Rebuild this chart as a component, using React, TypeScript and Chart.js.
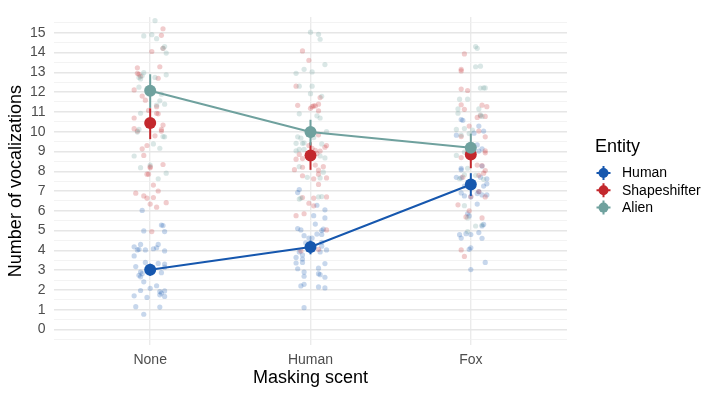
import React, { useEffect, useRef } from 'react';
import { Chart, registerables } from 'chart.js';

Chart.register(...registerables);

const categories = ['None', 'Human', 'Fox'];
const entities = ['Human', 'Shapeshifter', 'Alien'];
const colors = ['#1657AE', '#C3282D', '#6FA19E'];
const fills = ['rgba(22,87,174,0.24)', 'rgba(195,40,45,0.24)', 'rgba(111,161,158,0.26)'];

const meanHuman = [3.02, 4.17, 7.33];
const meanShapeshifter = [10.44, 8.79, 8.85];
const meanAlien = [12.07, 9.98, 9.18];
const lowHuman = [2.72, 3.8, 6.75];
const highHuman = [3.32, 4.5, 7.9];
const lowShapeshifter = [9.62, 8.07, 8.15];
const highShapeshifter = [11.18, 9.46, 9.14];
const lowAlien = [11.2, 9.3, 8.96];
const highAlien = [12.9, 10.6, 9.9];

const yTickLabels = ['0', '1', '2', '3', '4', '5', '6', '7', '8', '9', '10', '11', '12', '13', '14', '15'];

// jittered raw observations: [x offset from category, value]
const humanNone: [number, number][] = [
  [-0.05, 6.02], [0.07, 5.28], [0.08, 5.25], [-0.04, 4.98], [0.09, 4.95], [-0.1, 4.18], [-0.06, 4.3],
  [-0.08, 4.02], [-0.1, 3.72], [-0.07, 4.05], [-0.03, 4.02], [0.05, 4.3], [0.04, 4.13], [0.02, 4.08],
  [0.09, 3.97], [-0.09, 3.18], [-0.03, 3.39], [-0.06, 2.9], [-0.06, 2.66], [-0.07, 2.74], [-0.05, 2.82],
  [0.05, 3.34], [0.09, 3.31], [0.07, 2.87], [0.09, 3.15], [-0.04, 2.41], [-0.06, 1.97], [0.0, 2.08],
  [0.04, 2.21], [0.06, 1.92], [0.07, 1.84], [0.09, 1.95], [0.09, 1.67], [0.06, 1.75], [-0.1, 1.7],
  [-0.02, 1.62], [-0.09, 1.15], [0.06, 1.13], [-0.04, 0.77],
];
const humanHuman: [number, number][] = [
  [-0.07, 7.07], [-0.08, 6.92], [0.04, 6.28], [0.09, 6.05], [0.02, 5.75], [0.09, 5.64], [-0.08, 5.1],
  [-0.06, 5.03], [0.03, 5.33], [0.08, 5.07], [0.07, 5.0], [-0.04, 4.74], [0.04, 4.82], [0.07, 4.8],
  [-0.01, 4.62], [0.01, 4.62], [-0.03, 4.38], [0.07, 4.41], [-0.07, 3.92], [-0.05, 3.77], [-0.01, 4.05],
  [0.07, 4.21], [0.1, 4.02], [0.06, 3.92], [-0.09, 3.64], [-0.05, 3.56], [-0.09, 3.36], [-0.05, 3.39],
  [0.09, 3.33], [-0.08, 3.07], [-0.04, 2.9], [-0.04, 2.69], [0.05, 2.82], [0.06, 2.77], [0.09, 2.64],
  [0.05, 3.1], [-0.06, 2.2], [-0.04, 2.28], [0.05, 2.15], [0.09, 2.1], [-0.04, 1.1],
];
const humanFox: [number, number][] = [
  [-0.06, 10.61], [-0.05, 10.57], [0.05, 10.28], [0.02, 9.92], [0.08, 10.03], [-0.09, 9.82], [0.04, 9.33],
  [0.07, 9.13], [0.05, 9.02], [-0.06, 8.15], [-0.06, 8.07], [0.07, 8.26], [-0.09, 7.69], [-0.06, 7.66],
  [0.06, 7.7], [0.1, 7.62], [0.1, 7.36], [0.08, 7.25], [0.02, 7.36], [-0.04, 7.25], [-0.06, 6.9],
  [-0.04, 6.75], [0.05, 6.97], [0.07, 6.8], [0.1, 6.8], [0.04, 6.87], [0.0, 6.7], [0.04, 6.34],
  [-0.02, 5.85], [-0.01, 5.74], [0.08, 5.31], [0.07, 5.23], [0.05, 4.9], [-0.07, 4.79], [-0.06, 4.62],
  [-0.03, 4.84], [0.0, 4.8], [0.07, 4.61], [-0.01, 4.05], [0.0, 4.13], [0.09, 3.39], [0.0, 3.03],
];
const shapeNone: [number, number][] = [
  [0.08, 15.2], [0.07, 14.87], [0.01, 14.05], [0.08, 14.21], [0.06, 13.28], [-0.08, 13.23], [-0.08, 12.95],
  [-0.07, 12.9], [-0.06, 12.8], [0.05, 12.7], [-0.1, 12.11], [-0.05, 11.8], [-0.03, 11.59], [0.04, 11.26],
  [0.04, 10.93], [0.05, 10.9], [-0.01, 11.07], [-0.1, 10.69], [-0.1, 10.15], [-0.08, 10.03], [0.08, 10.33],
  [0.07, 10.11], [0.07, 10.03], [0.03, 9.79], [-0.02, 9.3], [-0.05, 9.13], [-0.04, 8.8], [0.08, 8.34],
  [0.0, 8.23], [0.0, 8.18], [-0.02, 7.85], [-0.01, 7.85], [0.02, 7.3], [0.05, 7.0], [-0.09, 6.89],
  [-0.04, 6.75], [-0.02, 6.64], [0.02, 6.67], [0.0, 6.34], [0.1, 6.41], [0.04, 6.18], [0.01, 4.95],
];
const shapeHuman: [number, number][] = [
  [-0.05, 14.08], [-0.01, 13.61], [-0.09, 12.3], [0.06, 11.72], [-0.08, 11.33], [0.0, 11.18], [0.01, 11.26],
  [0.02, 11.31], [0.05, 11.39], [0.03, 11.3], [0.05, 11.05], [0.05, 9.84], [0.1, 9.3], [0.09, 9.21],
  [0.06, 9.02], [-0.01, 9.3], [0.01, 9.16], [0.03, 9.05], [0.04, 8.89], [-0.09, 8.61], [-0.05, 8.64],
  [-0.07, 8.85], [0.03, 8.31], [0.08, 8.23], [0.05, 8.05], [0.05, 7.85], [-0.1, 8.08], [-0.05, 8.2],
  [-0.05, 7.77], [0.02, 7.62], [0.1, 7.66], [0.05, 7.33], [-0.05, 6.67], [0.1, 6.7], [0.02, 6.64],
  [-0.01, 6.38], [0.02, 6.25], [-0.09, 5.75], [-0.04, 5.85], [0.1, 5.03], [-0.06, 3.97], [0.05, 4.05],
];
const shapeFox: [number, number][] = [
  [-0.04, 13.93], [-0.06, 13.15], [-0.06, 13.07], [-0.06, 12.15], [-0.02, 12.08], [-0.06, 11.36], [0.07, 11.34],
  [0.1, 11.26], [-0.04, 11.13], [0.04, 10.72], [0.06, 10.8], [0.09, 10.77], [-0.01, 10.28], [-0.06, 9.75],
  [0.05, 10.03], [0.09, 9.74], [0.09, 9.03], [0.09, 8.93], [-0.06, 8.69], [0.04, 8.31], [0.07, 8.28],
  [0.09, 8.03], [0.08, 7.9], [-0.05, 7.7], [0.05, 7.79], [0.05, 6.97], [0.09, 6.7], [0.0, 6.72],
  [-0.08, 6.3], [-0.01, 6.0], [-0.03, 5.69], [0.07, 5.64], [-0.06, 4.02], [-0.04, 3.69],
];
const alienNone: [number, number][] = [
  [0.03, 15.61], [-0.04, 14.84], [0.01, 14.9], [0.04, 14.7], [0.09, 14.3], [0.1, 13.97], [0.08, 14.21],
  [-0.04, 12.98], [-0.05, 12.82], [-0.06, 12.66], [-0.07, 12.74], [0.03, 12.74], [0.1, 12.87], [-0.02, 12.16],
  [-0.07, 12.25], [0.07, 11.89], [0.06, 11.56], [0.09, 11.39], [0.04, 11.34], [-0.06, 10.93], [-0.07, 10.11],
  [-0.08, 9.98], [0.08, 9.75], [0.09, 9.74], [0.02, 9.38], [0.06, 9.16], [-0.1, 8.77], [-0.06, 8.18],
  [0.0, 8.31], [0.05, 7.62], [0.1, 7.9],
];
const alienHuman: [number, number][] = [
  [0.0, 15.03], [0.05, 14.92], [0.06, 14.67], [-0.04, 13.15], [0.01, 13.02], [0.09, 13.39], [-0.09, 12.95],
  [-0.07, 12.3], [0.01, 12.3], [0.0, 11.92], [0.07, 11.79], [-0.07, 10.9], [0.04, 10.8], [0.06, 10.69],
  [0.1, 10.0], [-0.08, 9.74], [-0.06, 9.67], [-0.04, 9.43], [0.02, 9.7], [-0.09, 9.41], [-0.05, 9.41],
  [-0.07, 9.1], [-0.04, 9.11], [-0.09, 9.03], [0.07, 9.38], [0.06, 8.77], [0.09, 8.67], [-0.07, 8.23],
  [-0.02, 7.69], [0.08, 7.95], [0.06, 7.66], [-0.06, 6.64], [-0.07, 6.59], [0.05, 6.7], [0.07, 6.72],
];
const alienFox: [number, number][] = [
  [0.03, 14.3], [0.04, 14.21], [0.03, 13.28], [0.06, 13.31], [0.06, 12.2], [0.08, 12.21], [0.09, 12.21],
  [-0.07, 11.64], [-0.02, 11.64], [-0.08, 11.15], [-0.08, 10.93], [0.05, 11.15], [0.06, 10.85], [0.07, 10.77],
  [-0.04, 10.16], [-0.09, 10.11], [-0.06, 9.82], [0.01, 10.08], [-0.01, 9.9], [-0.09, 8.8], [-0.04, 8.97],
  [-0.07, 7.62], [-0.04, 7.82], [-0.02, 8.15], [0.08, 7.59], [0.03, 7.79], [-0.04, 6.26], [-0.02, 5.64],
  [0.03, 5.23], [0.07, 5.28], [-0.02, 4.95],
];

const jitter = [
  [humanNone, humanHuman, humanFox],
  [shapeNone, shapeHuman, shapeFox],
  [alienNone, alienHuman, alienFox],
];
const means = [meanHuman, meanShapeshifter, meanAlien];
const lows = [lowHuman, lowShapeshifter, lowAlien];
const highs = [highHuman, highShapeshifter, highAlien];
const showLines = [true, false, true];

const FONT = "'Liberation Sans', Arial, Helvetica, sans-serif";

export default function App() {
  const ref = useRef<HTMLCanvasElement | null>(null);
  useEffect(() => {
    document.body.style.margin = '0';
    if (!ref.current) return;

    const jitterSets = entities.map((name, e) => ({
      label: name + ' obs',
      data: jitter[e].flatMap((arr, ci) => arr.map(([dx, y]) => ({ x: ci + 1 + dx, y }))),
      pointRadius: 2.6,
      pointBackgroundColor: fills[e],
      pointBorderWidth: 0,
      showLine: false,
      order: 10 + (3 - e),
      isMean: false,
    }));
    const meanSets = entities.map((name, e) => ({
      label: name,
      data: means[e].map((y, ci) => ({ x: ci + 1, y })),
      pointRadius: 6,
      pointBackgroundColor: colors[e],
      pointBorderWidth: 0,
      borderColor: colors[e],
      borderWidth: 2,
      showLine: showLines[e],
      order: 3 - e,
      entityIndex: e,
      isMean: true,
    }));

    const errorBars = {
      id: 'errorBars',
      beforeDatasetDraw(chart: any, args: any) {
        const ds = chart.data.datasets[args.index];
        if (!ds.isMean) return;
        const e = ds.entityIndex;
        const { ctx, scales } = chart;
        ctx.save();
        ctx.strokeStyle = colors[e];
        ctx.lineWidth = 2;
        for (let ci = 0; ci < categories.length; ci++) {
          const x = scales.x.getPixelForValue(ci + 1);
          ctx.beginPath();
          ctx.moveTo(x, scales.y.getPixelForValue(lows[e][ci]));
          ctx.lineTo(x, scales.y.getPixelForValue(highs[e][ci]));
          ctx.stroke();
        }
        ctx.restore();
      },
    };

    const legendPlugin = {
      id: 'customLegend',
      afterDraw(chart: any) {
        const { ctx } = chart;
        ctx.save();
        ctx.fillStyle = '#000';
        ctx.font = `18px ${FONT}`;
        ctx.textBaseline = 'middle';
        ctx.textAlign = 'left';
        ctx.fillText('Entity', 595, 147);
        entities.forEach((name, e) => {
          const y = 173 + e * 17.3;
          const x = 603.5;
          ctx.strokeStyle = colors[e];
          ctx.lineWidth = 2;
          ctx.beginPath();
          ctx.moveTo(x - 7, y);
          ctx.lineTo(x + 7, y);
          ctx.moveTo(x, y - 7);
          ctx.lineTo(x, y + 7);
          ctx.stroke();
          ctx.fillStyle = colors[e];
          ctx.beginPath();
          ctx.arc(x, y, 5, 0, Math.PI * 2);
          ctx.fill();
          ctx.fillStyle = '#000';
          ctx.font = `14px ${FONT}`;
          ctx.fillText(name, 622, y + 0.5);
        });
        ctx.restore();
      },
    };

    const chart = new Chart(ref.current, {
      type: 'scatter',
      data: { datasets: [...jitterSets, ...meanSets] as any },
      options: {
        animation: false,
        responsive: false,
        maintainAspectRatio: false,
        layout: { padding: { left: 0, right: 153, top: 7.7, bottom: 0 } },
        plugins: { legend: { display: false }, tooltip: { enabled: false } },
        scales: {
          x: {
            type: 'linear',
            min: 0.4,
            max: 3.6,
            afterBuildTicks: (scale: any) => {
              scale.ticks = categories.map((_, i) => ({ value: i + 1 }));
            },
            afterFit: (scale: any) => {
              scale.height = 50.7;
            },
            ticks: {
              autoSkip: false,
              maxRotation: 0,
              padding: 6,
              color: '#4d4d4d',
              font: { family: FONT, size: 14 },
              callback: (v: any) => categories[Math.round(Number(v)) - 1] ?? '',
            },
            grid: { color: '#ebebeb', lineWidth: 1.4, drawTicks: false },
            border: { display: false },
            title: {
              display: true,
              text: 'Masking scent',
              color: '#000',
              font: { family: FONT, size: 18 },
              padding: { top: 0, bottom: 7 },
            },
          },
          y: {
            type: 'linear',
            min: -0.8,
            max: 15.8,
            afterBuildTicks: (scale: any) => {
              const t = [];
              for (let i = -1; i <= 31; i++) t.push({ value: i / 2 });
              scale.ticks = t;
            },
            afterFit: (scale: any) => {
              scale.width = 54;
            },
            ticks: {
              autoSkip: false,
              padding: 8.5,
              color: '#4d4d4d',
              font: { family: FONT, size: 14 },
              callback: (v: any) => {
                const n = Number(v);
                return Number.isInteger(n) && n >= 0 ? yTickLabels[n] ?? '' : '';
              },
            },
            grid: {
              drawTicks: false,
              color: (c: any) => (Number.isInteger(c.tick?.value) ? '#e6e6e6' : '#f0f0f0'),
              lineWidth: (c: any) => (Number.isInteger(c.tick?.value) ? 1.4 : 0.8),
            },
            border: { display: false },
            title: {
              display: true,
              text: 'Number of vocalizations',
              color: '#000',
              font: { family: FONT, size: 18 },
              padding: { top: 5, bottom: 0 },
            },
          },
        },
      },
      plugins: [errorBars, legendPlugin],
    });
    return () => chart.destroy();
  }, []);

  return (
    <div style={{ position: 'fixed', left: 0, top: 0, width: 720, height: 396, background: '#fff' }}>
      <canvas ref={ref} width={720} height={396} />
    </div>
  );
}
